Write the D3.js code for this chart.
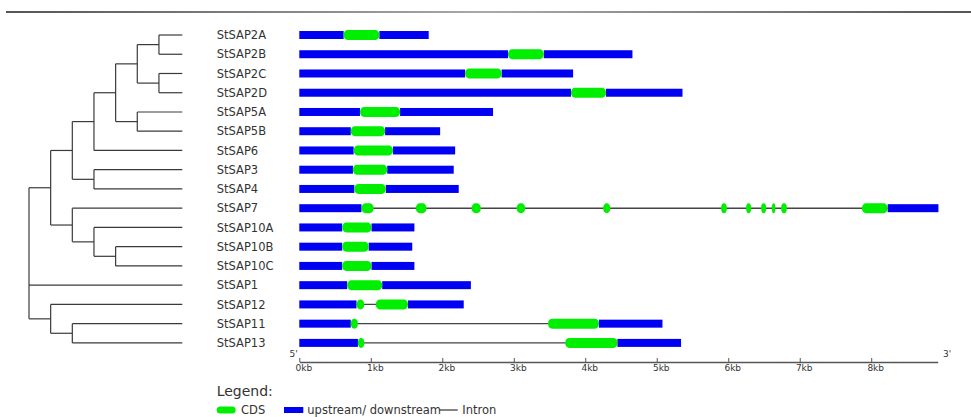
<!DOCTYPE html>
<html>
<head>
<meta charset="utf-8">
<script src="https://cdn.jsdelivr.net/npm/d3@7"></script>
<style>
  html, body { margin: 0; padding: 0; background: #fff; }
  svg { display: block; }
  text { font-family: "DejaVu Sans", Verdana, sans-serif; }
</style>
</head>
<body>
<svg id="chart" width="971" height="417"></svg>
<script>
// ---------------- DATA ----------------
const genes = ["StSAP2A","StSAP2B","StSAP2C","StSAP2D","StSAP5A","StSAP5B","StSAP6","StSAP3","StSAP4",
               "StSAP7","StSAP10A","StSAP10B","StSAP10C","StSAP1","StSAP12","StSAP11","StSAP13"];

// phylogenetic tree topology (nested lists)
const tree = [
  [
    [
      [
        [[["StSAP2A","StSAP2B"],["StSAP2C","StSAP2D"]],["StSAP5A","StSAP5B"]],
        "StSAP6"
      ],
      ["StSAP3","StSAP4"]
    ],
    ["StSAP7",["StSAP10A",["StSAP10B","StSAP10C"]]]
  ],
  "StSAP1",
  ["StSAP12",["StSAP11","StSAP13"]]
];

// gene total length (kb)
const geneLength = [1.81,4.66,3.83,5.36,2.71,1.97,2.18,2.16,2.23,8.94,1.61,1.58,1.61,2.40,2.30,5.08,5.34];

// CDS exons (kb) per gene
const cdsExons = [
  [[0.62,1.12]],
  [[2.92,3.42]],
  [[2.32,2.83]],
  [[3.80,4.29]],
  [[0.85,1.41]],
  [[0.72,1.20]],
  [[0.76,1.31]],
  [[0.75,1.23]],
  [[0.77,1.21]],
  [[0.87,1.04],[1.63,1.78],[2.41,2.54],[3.04,3.16],[4.25,4.35],[5.90,5.98],[6.25,6.32],[6.46,6.53],[6.61,6.66],[6.74,6.82],[7.87,8.23]],
  [[0.60,1.01]],
  [[0.60,0.97]],
  [[0.60,1.01]],
  [[0.67,1.16]],
  [[0.80,0.91],[1.07,1.52]],
  [[0.72,0.82],[3.48,4.19]],
  [[0.82,0.91],[3.72,4.45]]
];

const axisTicks = [0,1,2,3,4,5,6,7,8];
const axisMax = 8.93;
const legendLabels = ["CDS","upstream/ downstream","Intron"];

// ---------------- DRAW ----------------
const svg = d3.select("#chart");
const blue = "#0000f2", green = "#00ee00", lineCol = "#3a3a3a";

// top rule
const grad = svg.append("defs").append("linearGradient").attr("id","topline");
grad.append("stop").attr("offset","0%").attr("stop-color","#555");
grad.append("stop").attr("offset","50%").attr("stop-color","#aaa");
grad.append("stop").attr("offset","100%").attr("stop-color","#555");
svg.append("rect").attr("x",6).attr("y",11).attr("width",965).attr("height",2).attr("fill","url(#topline)");

const y = d3.scalePoint().domain(genes).range([35, 342.9]);
const x = d3.scaleLinear().domain([0, axisMax]).range([299.3, 937.7]);

// ---- tree ----
const root = d3.hierarchy(tree, d => Array.isArray(d) ? d : null);
const xDepth = d3.scaleLinear().domain([0, 7]).range([29, 180.6]);
const leafEnd = 182.3;
root.eachAfter(n => {
  if (n.children) {
    n.ty = (n.children[0].ty + n.children[n.children.length - 1].ty) / 2;
    n.tx = xDepth(n.depth);
  } else {
    n.ty = y(n.data);
    n.tx = leafEnd;
  }
});
const tg = svg.append("g").attr("stroke", lineCol).attr("stroke-width", 1.2).attr("fill","none");
root.each(n => {
  if (n.children) {
    tg.append("line").attr("x1", n.tx).attr("x2", n.tx)
      .attr("y1", n.children[0].ty).attr("y2", n.children[n.children.length-1].ty);
  }
  if (n.parent) {
    tg.append("line").attr("x1", n.parent.tx).attr("x2", n.tx).attr("y1", n.ty).attr("y2", n.ty);
  }
});

// gene labels
svg.append("g").selectAll("text").data(genes).join("text")
  .attr("x", 216.7).attr("y", d => y(d)).attr("dy","0.36em")
  .attr("font-size", 11.5).attr("fill", "#333").text(d => d);

// ---- gene structures ----
const gs = svg.append("g");
genes.forEach((g, i) => {
  const cy = y(g);
  const ex = cdsExons[i];
  const first = ex[0][0], last = ex[ex.length-1][1];
  // intron line
  if (ex.length > 1) {
    gs.append("line").attr("x1", x(first)).attr("x2", x(last)).attr("y1", cy).attr("y2", cy)
      .attr("stroke", "#444").attr("stroke-width", 1.4);
  }
  // upstream / downstream
  gs.append("rect").attr("x", x(0)).attr("y", cy-4).attr("width", x(first)-x(0)).attr("height", 8).attr("fill", blue);
  gs.append("rect").attr("x", x(last)).attr("y", cy-4).attr("width", x(geneLength[i])-x(last)).attr("height", 8).attr("fill", blue);
  // CDS
  ex.forEach(([s,e]) => {
    const w = x(e) - x(s);
    gs.append("rect").attr("x", x(s)).attr("y", cy-5).attr("width", w).attr("height", 10)
      .attr("rx", Math.min(4, w/2)).attr("ry", 5).attr("fill", green);
  });
});

// ---- axis ----
const axis = d3.axisBottom(x).tickValues(axisTicks).tickFormat(d => d + "kb")
  .tickSizeInner(-4).tickSizeOuter(0).tickPadding(3);
const ag = svg.append("g").attr("transform", "translate(0,362)").call(axis);
ag.select(".domain").attr("stroke", "#555").attr("stroke-width", 1.3);
ag.selectAll(".tick line").attr("stroke", "#555");
ag.selectAll(".tick text").attr("font-size", 9).attr("fill", "#333").attr("dx", 4)
  .attr("font-family", "'DejaVu Sans', Verdana, sans-serif");
svg.append("text").attr("x", 289.5).attr("y", 357).attr("font-size", 9).attr("fill","#333").text("5'");
svg.append("text").attr("x", 943).attr("y", 357).attr("font-size", 9).attr("fill","#333").text("3'");

// ---- legend ----
svg.append("text").attr("x", 216.7).attr("y", 396).attr("font-size", 14).attr("fill", "#333").text("Legend:");
const ly = 410;
svg.append("rect").attr("x", 216.7).attr("y", ly-3.5).attr("width", 19).attr("height", 7).attr("rx", 3.5).attr("fill", green);
svg.append("text").attr("x", 241).attr("y", ly).attr("dy","0.36em").attr("font-size", 11.5).attr("fill","#333").text(legendLabels[0]);
svg.append("rect").attr("x", 284).attr("y", ly-3).attr("width", 19.3).attr("height", 6).attr("fill", blue);
svg.append("text").attr("x", 307.3).attr("y", ly).attr("dy","0.36em").attr("font-size", 11.5).attr("fill","#333").text(legendLabels[1]);
svg.append("line").attr("x1", 439.3).attr("x2", 457.7).attr("y1", ly).attr("y2", ly).attr("stroke", "#333").attr("stroke-width", 1.2);
svg.append("text").attr("x", 462.3).attr("y", ly).attr("dy","0.36em").attr("font-size", 11.5).attr("fill","#333").text(legendLabels[2]);
</script>
</body>
</html>
